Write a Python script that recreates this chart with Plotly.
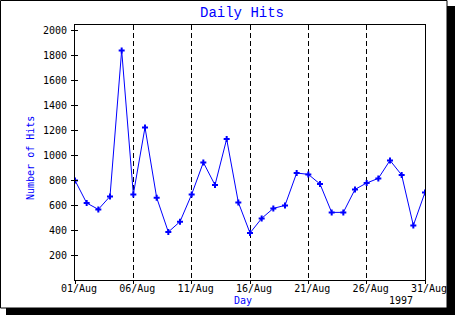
import plotly.graph_objects as go

days = [f"1997-08-{d:02d}" for d in range(1, 32)]
hits = [797, 616, 565, 669, 1837, 685, 1221, 659, 384, 467, 685, 941, 760, 1128, 621,
        376, 493, 573, 597, 856, 845, 768, 541, 541, 725, 776, 813, 957, 840, 437, 701]
y_ticks = [200, 400, 600, 800, 1000, 1200, 1400, 1600, 1800, 2000]
x_ticks = ["1997-08-01", "1997-08-06", "1997-08-11", "1997-08-16", "1997-08-21", "1997-08-26", "1997-08-31"]
x_tick_labels = ["01/Aug", "06/Aug", "11/Aug", "16/Aug", "21/Aug", "26/Aug", "31/Aug"]

W, H = 455, 315
L, R, T, B = 75, 425, 25, 280

def px(x):
    return (x - L) / (R - L)

def py(y):
    return (B - y) / (B - T)

BLUE = "#0000ff"
FONT = "DejaVu Sans Mono"

fig = go.Figure()
fig.add_trace(go.Scatter(
    x=days, y=hits, mode="lines+markers",
    line=dict(color=BLUE, width=1),
    marker=dict(symbol="cross", size=5, color=BLUE, line=dict(width=0)),
    showlegend=False, hoverinfo="skip",
))
fig.add_trace(go.Scatter(
    x=days, y=hits, mode="lines", yaxis="y2",
    line=dict(color="rgba(0,0,0,0)", width=0),
    showlegend=False, hoverinfo="skip",
))

fig.update_layout(
    width=W, height=H,
    margin=dict(l=L, r=W - R, t=T, b=H - B, autoexpand=False),
    paper_bgcolor="white",
    plot_bgcolor="rgba(0,0,0,0)",
    font=dict(family=FONT, size=10, color="black"),
    xaxis=dict(
        type="date",
        range=["1997-08-01", "1997-08-31"],
        tickvals=x_ticks, ticktext=x_tick_labels,
        ticks="outside", ticklen=3, tickcolor="black",
        showgrid=True, gridcolor="black", gridwidth=1, griddash="5px,3px",
        showline=True, linecolor="black", linewidth=1, mirror=True,
        zeroline=False, automargin=False,
        tickfont=dict(family=FONT, size=10, color="black"),
        ticklabelstandoff=-4, ticklabelshift=4,
    ),
    yaxis=dict(
        range=[0, 2040],
        tickvals=y_ticks,
        ticks="outside", ticklen=3, tickcolor="black",
        showgrid=False, zeroline=False, automargin=False,
        showline=True, linecolor="black", linewidth=1, mirror=True,
        tickfont=dict(family=FONT, size=10, color="black"),
        ticklabelstandoff=2,
    ),
    yaxis2=dict(
        range=[0, 2040], overlaying="y", side="left", automargin=False,
        tickvals=y_ticks, ticks="inside", ticklen=3, tickcolor="black",
        showticklabels=False, showgrid=False, zeroline=False, showline=False,
    ),
    shapes=[
        dict(type="rect", xref="paper", yref="paper", layer="below",
             x0=px(6), x1=px(455), y0=py(6), y1=py(315),
             fillcolor="black", line=dict(width=0)),
        dict(type="rect", xref="paper", yref="paper", layer="below",
             x0=px(0.5), x1=px(447), y0=py(0.5), y1=py(308),
             fillcolor="white", line=dict(color="black", width=1)),
    ],
    annotations=[
        dict(text="Daily Hits", xref="paper", yref="paper", x=px(242), y=py(13),
             showarrow=False, xanchor="center", yanchor="middle",
             font=dict(family="Liberation Mono", size=14, color=BLUE)),
        dict(text="Number of Hits", xref="paper", yref="paper", x=px(31), y=py(158),
             showarrow=False, xanchor="center", yanchor="middle", textangle=-90,
             font=dict(family=FONT, size=10, color=BLUE)),
        dict(text="Day", xref="paper", yref="paper", x=px(243), y=py(300),
             showarrow=False, xanchor="center", yanchor="middle",
             font=dict(family=FONT, size=10, color=BLUE)),
        dict(text="1997", xref="paper", yref="paper", x=px(401), y=py(300),
             showarrow=False, xanchor="center", yanchor="middle",
             font=dict(family=FONT, size=10, color="black")),
    ],
)

fig.write_html("out.html")
